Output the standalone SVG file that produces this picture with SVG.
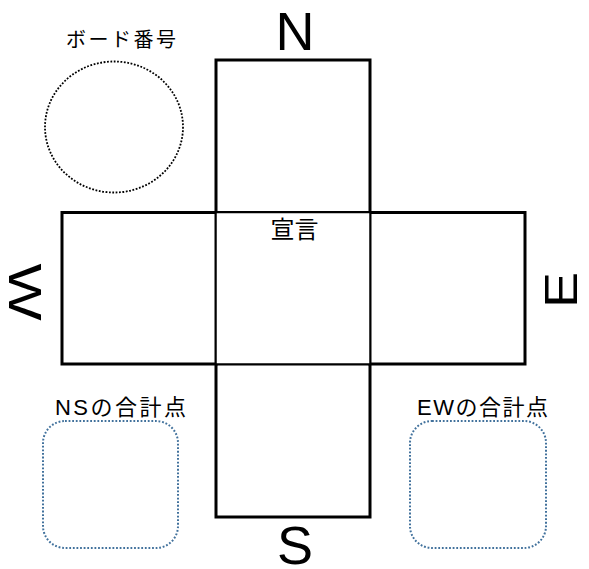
<svg xmlns="http://www.w3.org/2000/svg" width="589" height="569" viewBox="0 0 589 569">
<style>
.big{font-family:"Liberation Sans",Arial,sans-serif;font-size:54px;fill:#000}
.lbl{font-family:"Liberation Sans","Noto Sans CJK JP",sans-serif;fill:#000}
.box{fill:#fff;stroke:#000;stroke-width:3}
.center{fill:#fff;stroke:#000;stroke-width:1.5}
.dotblue{fill:none;stroke:#41719C;stroke-width:2;stroke-dasharray:1.8 1.8}
</style>
<rect width="589" height="569" fill="#fff"/>
<g id="board-number">
  <ellipse cx="114" cy="127" rx="69" ry="65.5" fill="none" stroke="#000" stroke-width="1.8" stroke-dasharray="1.8 1.6"/>
  <text class="lbl" x="66" y="47" font-size="20" textLength="110" lengthAdjust="spacing">ボード番号</text>
</g>
<g id="north">
  <rect class="box" x="216" y="60" width="154" height="152.5"/>
  <text class="big" x="295" y="49.5" text-anchor="middle">N</text>
</g>
<g id="south">
  <rect class="box" x="216" y="364" width="154" height="153"/>
  <text class="big" x="295" y="563.5" text-anchor="middle">S</text>
</g>
<g id="west">
  <rect class="box" x="62" y="212.5" width="154" height="151.5"/>
  <text class="big" transform="translate(26,292) rotate(90) scale(1.12,0.85)" text-anchor="middle" dy="0.36em">W</text>
</g>
<g id="east">
  <rect class="box" x="370" y="212.5" width="155" height="151.5"/>
  <text class="big" transform="translate(560,290) rotate(-90) scale(1,0.85)" text-anchor="middle" dy="0.36em">E</text>
</g>
<g id="declaration">
  <rect class="center" x="216" y="212.5" width="154" height="151.5"/>
  <text class="lbl" x="294.5" y="238" font-size="24" text-anchor="middle">宣言</text>
</g>
<g id="ns-total">
  <rect class="dotblue" x="43" y="421" width="135" height="127" rx="22" ry="22"/>
  <text class="lbl" x="55" y="415" font-size="22" textLength="131" lengthAdjust="spacing">NSの合計点</text>
</g>
<g id="ew-total">
  <rect class="dotblue" x="410" y="421" width="136" height="127" rx="22" ry="22"/>
  <text class="lbl" x="417" y="415" font-size="22" textLength="131" lengthAdjust="spacing">EWの合計点</text>
</g>
<g id="connectors"/>
</svg>
